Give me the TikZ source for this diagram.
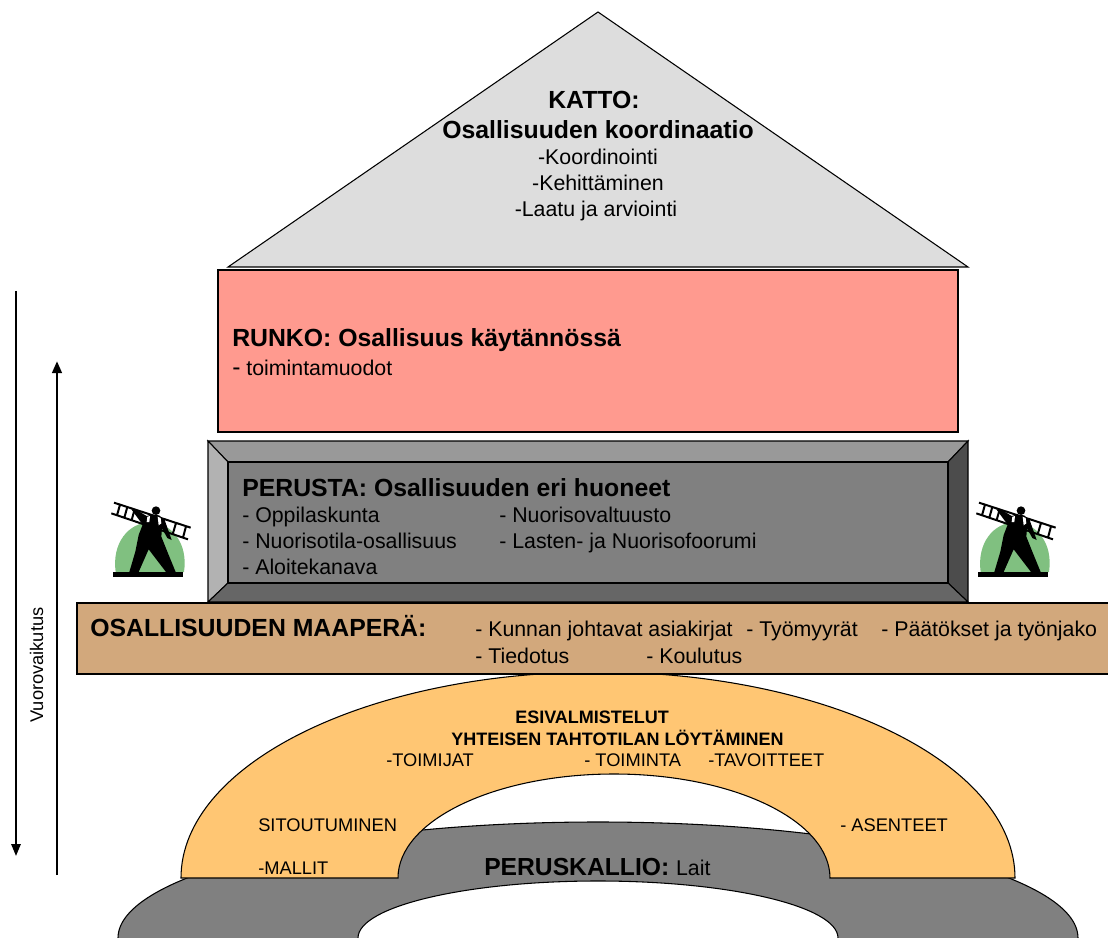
\documentclass[tikz,border=0pt]{standalone}
\usepackage{fontspec}
\setmainfont{Liberation Sans}
\usetikzlibrary{arrows.meta}
\definecolor{roofc}{HTML}{DDDDDD}
\definecolor{bodyc}{HTML}{FF9A8F}
\definecolor{soilc}{HTML}{D2A87C}
\definecolor{archc}{HTML}{FFC673}
\definecolor{rockc}{HTML}{808080}
\definecolor{greenc}{HTML}{80C080}
\tikzset{
 part/.style={draw=black,line width=.8pt,line join=miter},
 txt/.style={inner sep=0pt,anchor=base west,text=black},
 big/.style={txt,font=\fontsize{18.6}{20}\selectfont\bfseries},
 small/.style={txt,font=\fontsize{16}{18}\selectfont},
 tiny/.style={txt,font=\fontsize{13.7}{15}\selectfont},
 tinyb/.style={txt,font=\fontsize{13.5}{15}\selectfont\bfseries},
 captxt/.style={inner sep=0pt,anchor=base,align=center},
 manlook/.pic={
  \fill[greenc] (77,276)
     .. controls (65,190) and (115,128) .. (180,127) .. controls (245,128) and (295,190) .. (282,276) -- cycle;
  \fill[black] (70,276) rectangle (278,290);
  \draw[black,line width=1.5pt] (72,68) -- (302,143) (64,100) -- (294,178)
    (90,74) -- (81,106) (112,81) -- (103,113) (134,88) -- (125,120) (258,129) -- (248,163) (288,139) -- (279,173);
  \fill[black] (118,276) -- (136,215) -- (146,165) -- (158,134) -- (124,88) -- (140,90) -- (170,108) -- (185,104)
     -- (207,106) -- (224,120) -- (245,180) -- (232,174) -- (216,145) -- (214,170) -- (232,215) -- (257,276) -- (228,276)
     -- (176,208) -- (146,276) -- cycle;
  \fill[black] (198,92) circle[radius=13];
  \fill[white] (172,110) -- (180,108) -- (178,126) -- (170,126) -- cycle;
  \fill[white] (203,110) -- (212,114) -- (214,130) -- (206,136) -- cycle;
 }
}
\begin{document}
\begin{tikzpicture}[x=.75pt,y=-.75pt]
\useasboundingbox (0,0) rectangle (1108,938);
\clip (0,0) rectangle (1108,938);
% bedrock
\filldraw[part,fill=rockc] (118,945) -- (118,938) arc[start angle=180,end angle=360,x radius=480,y radius=116] -- (1078,945);
\filldraw[part,fill=white] (358,945) -- (358,938) arc[start angle=180,end angle=360,x radius=240,y radius=57] -- (838,945);
% arch
\filldraw[part,fill=archc] (181,878) arc[start angle=180,end angle=360,x radius=417,y radius=206]
  -- (830,878) arc[start angle=0,end angle=-180,x radius=216,y radius=104] -- cycle;
% roof
\filldraw[part,fill=roofc] (598,12) -- (968,267) -- (228,267) -- cycle;
% body
\filldraw[part,fill=bodyc] (218,270) rectangle (958,432);
% foundation
\filldraw[part,fill=black!40] (208,441) -- (968,441) -- (948,462) -- (228,462) -- cycle;
\filldraw[part,fill=black!30] (208,441) -- (228,462) -- (228,583) -- (208,602) -- cycle;
\filldraw[part,fill=black!70] (968,441) -- (948,462) -- (948,583) -- (968,602) -- cycle;
\filldraw[part,fill=black!60] (208,602) -- (228,583) -- (948,583) -- (968,602) -- cycle;
\filldraw[part,fill=rockc] (228,462) rectangle (948,583);
% soil
\filldraw[part,fill=soilc] (77,603) -- (1112,603) -- (1112,674) -- (77,674) -- cycle;
% men
\begin{scope}[shift={(90,480)},x=.25pt,y=-.25pt]\pic {manlook};\end{scope}
\begin{scope}[shift={(955,480)},x=.25pt,y=-.25pt]\pic {manlook};\end{scope}
% arrows
\coordinate (a1s) at (16,291); \coordinate (a1e) at (16,856);
\coordinate (a2s) at (57,875); \coordinate (a2e) at (57,361);
\draw[line width=1.5pt,-{Triangle[length=9pt,width=7pt]}] (a1s) -- (a1e);
\draw[line width=2.2pt,-{Triangle[length=9pt,width=7pt]}] (a2s) -- (a2e);
\node[rotate=90,inner sep=0pt,anchor=base,font=\fontsize{13.7}{15}\selectfont] (vv) at (43,665) {Vuorovaikutus};
% roof text
\node[captxt,font=\fontsize{18.6}{20}\selectfont\bfseries] (k1) at (594,109) {KATTO:};
\node[captxt,font=\fontsize{18.6}{20}\selectfont\bfseries] (k2) at (598,139) {Osallisuuden koordinaatio};
\node[captxt,font=\fontsize{16}{18}\selectfont] (k3) at (598,165) {-Koordinointi};
\node[captxt,font=\fontsize{16}{18}\selectfont] (k4) at (598,191) {-Kehittäminen};
\node[captxt,font=\fontsize{16}{18}\selectfont] (k5) at (596,217) {-Laatu ja arviointi};
% body text
\node[big] (r1) at (232,346) {RUNKO: Osallisuus käytännössä};
\node[small] (r2) at (232,376) {{\fontsize{18.5}{20}\selectfont -} toimintamuodot};
% foundation text
\node[big] (p1) at (242,496) {PERUSTA: Osallisuuden eri huoneet};
\node[small] (p2) at (242,522) {- Oppilaskunta};
\node[small] (p3) at (242,548) {- Nuorisotila-osallisuus};
\node[small] (p4) at (242,574) {- Aloitekanava};
\node[small] (p5) at (499,522) {- Nuorisovaltuusto};
\node[small] (p6) at (499,548) {- Lasten- ja Nuorisofoorumi};
% soil text
\node[big] (s1) at (90,636) {OSALLISUUDEN MAAPERÄ:};
\node[small] (s2) at (475,636) {- Kunnan johtavat asiakirjat};
\node[small] (s3) at (746,636) {- Työmyyrät};
\node[small] (s4) at (881,636) {- Päätökset ja työnjako};
\node[small] (s5) at (475,663) {- Tiedotus};
\node[small] (s6) at (646,663) {- Koulutus};
% arch text
\node[tinyb] (e1) at (515,723) {ESIVALMISTELUT};
\node[tinyb] (e2) at (451,745) {YHTEISEN TAHTOTILAN LÖYTÄMINEN};
\node[tiny] (e3) at (386,766) {-TOIMIJAT};
\node[tiny] (e4) at (584,766) {- TOIMINTA};
\node[tiny] (e5) at (708,766) {-TAVOITTEET};
\node[tiny] (e6) at (258,831) {SITOUTUMINEN};
\node[tiny] (e7) at (840,831) {- ASENTEET};
\node[tiny] (e8) at (258,874) {-MALLIT};
% rock text
\node[txt] (l1) at (484,875) {\fontsize{18.5}{20}\selectfont\bfseries PERUSKALLIO: \fontsize{16}{18}\selectfont\mdseries Lait};
\end{tikzpicture}
\end{document}
